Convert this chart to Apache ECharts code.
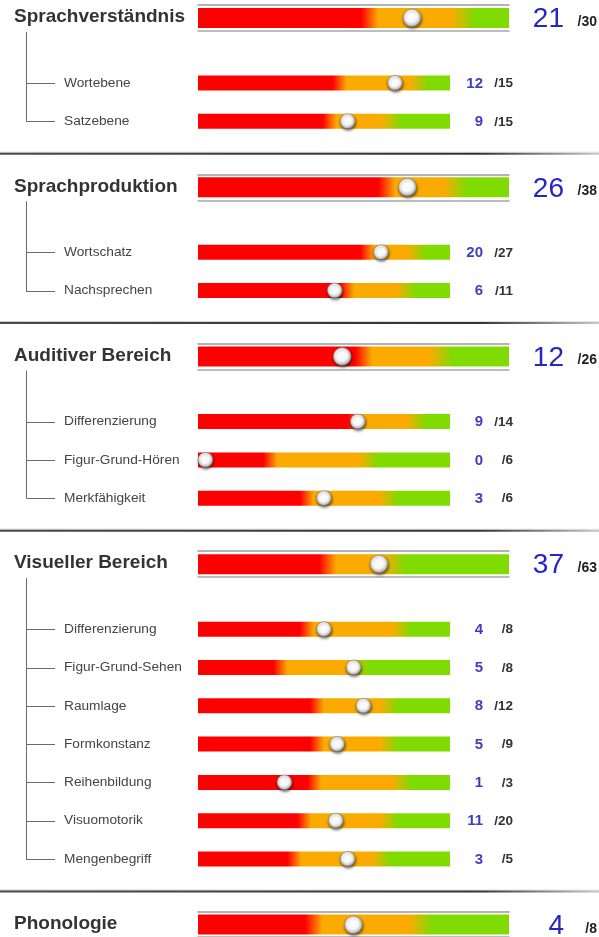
<!DOCTYPE html>
<html>
<head>
<meta charset="utf-8">
<script src="https://cdn.jsdelivr.net/npm/echarts@6/dist/echarts.min.js"></script>
<style>
  html, body { margin: 0; padding: 0; background: #fff; }
  #chart { width: 599px; height: 937px; }
</style>
</head>
<body>
<div id="chart"></div>
<script>
// Bereiche (Hauptzeilen)
const sectionNames = ['Sprachverständnis', 'Sprachproduktion', 'Auditiver Bereich', 'Visueller Bereich', 'Phonologie'];
const sectionScores = [21, 26, 12, 37, 4];
const sectionMax = [30, 38, 26, 63, 8];
// Anteil, ab dem rot -> orange bzw. orange -> grün wechselt
const sectionRedEnd = [0.55, 0.605, 0.53, 0.415, 0.37];
const sectionGreenStart = [0.855, 0.83, 0.785, 0.635, 0.72];

// Unterbereiche
const subNames = [
  ['Wortebene', 'Satzebene'],
  ['Wortschatz', 'Nachsprechen'],
  ['Differenzierung', 'Figur-Grund-Hören', 'Merkfähigkeit'],
  ['Differenzierung', 'Figur-Grund-Sehen', 'Raumlage', 'Formkonstanz', 'Reihenbildung', 'Visuomotorik', 'Mengenbegriff'],
  []
];
const subScores = [[12, 9], [20, 6], [9, 0, 3], [4, 5, 8, 5, 1, 11, 3], []];
const subMax = [[15, 15], [27, 11], [14, 6, 6], [8, 8, 12, 9, 3, 20, 5], []];
const subRedEnd = [[0.56, 0.52], [0.67, 0.59], [0.62, 0.285, 0.43], [0.43, 0.325, 0.47, 0.47, 0.46, 0.42, 0.38], []];
const subGreenStart = [[0.88, 0.77], [0.87, 0.83], [0.87, 0.68, 0.76], [0.81, 0.64, 0.76, 0.76, 0.81, 0.76, 0.73], []];

const FONT = '"Liberation Sans", Arial, sans-serif';
const RED = '#ff0000', ORANGE = '#fbab00', GREEN = '#7fdb00';

function clamp(v) { return Math.max(0, Math.min(1, v)); }

function barGradient(r, g) {
  return new echarts.graphic.LinearGradient(0, 0, 1, 0, [
    { offset: 0, color: RED },
    { offset: clamp(r - 0.025), color: RED },
    { offset: clamp(r + 0.03), color: ORANGE },
    { offset: clamp(g - 0.04), color: ORANGE },
    { offset: clamp(g + 0.035), color: GREEN },
    { offset: 1, color: GREEN }
  ]);
}

const ballColor = new echarts.graphic.RadialGradient(0.45, 0.4, 0.6, [
  { offset: 0, color: '#ffffff' },
  { offset: 0.55, color: '#f6f6f6' },
  { offset: 0.85, color: '#c0c0c0' },
  { offset: 1, color: '#5f5f5f' }
]);

const grid = [], xAxis = [], yAxis = [], series = [], graphic = [];

function addRow(name, score, max, r, g, cy, main) {
  const left = 198;
  const w = main ? 311 : 252;
  const h = main ? 20 : 15;
  const rad = main ? 9 : 7.5;
  const gi = grid.length;

  // Balken
  grid.push({ left: left, top: main ? cy - 13 : cy - h / 2, width: w, height: main ? 26 : h });
  xAxis.push({
    gridIndex: gi, type: 'value', min: 0, max: max, position: 'bottom',
    axisLine: { show: main, onZero: false, lineStyle: { color: '#a8a8a8', width: 1.5 } },
    axisTick: { show: false }, axisLabel: { show: false }, splitLine: { show: false }
  });
  yAxis.push({ gridIndex: gi, type: 'category', data: [name], show: false });
  series.push({
    type: 'bar', xAxisIndex: xAxis.length - 1, yAxisIndex: yAxis.length - 1,
    barWidth: h, data: [max], silent: true,
    itemStyle: { color: barGradient(r, g) }
  });
  if (main) {
    xAxis.push({
      gridIndex: gi, type: 'value', min: 0, max: max, position: 'top',
      axisLine: { show: true, onZero: false, lineStyle: { color: '#9a9a9a', width: 1.5 } },
      axisTick: { show: false }, axisLabel: { show: false }, splitLine: { show: false }
    });
  }

  // Kugel (Raster um den Radius eingerückt)
  const gm = grid.length;
  grid.push({ left: left + rad, top: cy - h / 2, width: w - 2 * rad, height: h });
  xAxis.push({ gridIndex: gm, type: 'value', min: 0, max: max, show: false });
  yAxis.push({ gridIndex: gm, type: 'category', data: [name], show: false });
  series.push({
    type: 'scatter', xAxisIndex: xAxis.length - 1, yAxisIndex: yAxis.length - 1,
    symbolSize: rad * 2, data: [[score, name]], silent: true, z: 5,
    itemStyle: {
      color: ballColor, borderColor: '#7a7a7a', borderWidth: 0.5,
      shadowBlur: 3, shadowColor: 'rgba(0,0,0,0.6)', shadowOffsetX: 0.5, shadowOffsetY: 1.5, opacity: 1
    }
  });

  // Punktzahl
  if (main) {
    graphic.push({ type: 'text', style: { text: String(score), x: 564, y: cy + 1.5, align: 'right', verticalAlign: 'middle', fill: '#2525c8', font: '28px ' + FONT } });
    graphic.push({ type: 'text', style: { text: '/' + max, x: 597, y: cy + 4, align: 'right', verticalAlign: 'middle', fill: '#222', font: 'bold 14px ' + FONT } });
  } else {
    graphic.push({ type: 'text', style: { text: String(score), x: 483, y: cy + 0.5, align: 'right', verticalAlign: 'middle', fill: '#3f3fbd', font: 'bold 15px ' + FONT } });
    graphic.push({ type: 'text', style: { text: '/' + max, x: 513, y: cy + 0.5, align: 'right', verticalAlign: 'middle', fill: '#333', font: 'bold 13.5px ' + FONT } });
  }
}

let y = 18;
sectionNames.forEach((sec, s) => {
  const mainY = y;
  graphic.push({ type: 'text', style: { text: sec, x: 14, y: mainY - 1, verticalAlign: 'middle', fill: '#333', font: 'bold 19px ' + FONT } });
  addRow(sec, sectionScores[s], sectionMax[s], sectionRedEnd[s], sectionGreenStart[s], mainY, true);

  const n = subNames[s].length;
  if (n) {
    let last = mainY;
    subNames[s].forEach((name, i) => {
      const cy = mainY + 65 + i * 38.3;
      last = cy;
      graphic.push({ type: 'line', shape: { x1: 26.5, y1: Math.round(cy) + 0.5, x2: 55, y2: Math.round(cy) + 0.5 }, style: { stroke: '#6a6a6a', lineWidth: 1 } });
      graphic.push({ type: 'text', style: { text: name, x: 64, y: cy, verticalAlign: 'middle', fill: '#444', font: '13.7px ' + FONT } });
      addRow(name, subScores[s][i], subMax[s][i], subRedEnd[s][i], subGreenStart[s][i], cy, false);
    });
    graphic.push({ type: 'line', shape: { x1: 26.5, y1: mainY + 14, x2: 26.5, y2: Math.round(last) + 0.5 }, style: { stroke: '#6a6a6a', lineWidth: 1 } });

    // Trennlinie
    const sep = last + 31.5;
    graphic.push({ type: 'rect', shape: { x: 0, y: sep - 1, width: 599, height: 1 }, style: { fill: new echarts.graphic.LinearGradient(0, 0, 1, 0, [{ offset: 0, color: '#c8c8c8' }, { offset: 1, color: '#e4e4e4' }]) } });
    graphic.push({ type: 'rect', shape: { x: 0, y: sep, width: 599, height: 2 }, style: { fill: new echarts.graphic.LinearGradient(0, 0, 1, 0, [{ offset: 0, color: '#4a4a4a' }, { offset: 0.8, color: '#333' }, { offset: 1, color: '#c8c8c8' }]) } });
    y = last + 66;
  }
});

const chart = echarts.init(document.getElementById('chart'), null, { renderer: 'canvas' });
chart.setOption({
  animation: false,
  backgroundColor: '#fff',
  grid, xAxis, yAxis, series, graphic
});
</script>
</body>
</html>
